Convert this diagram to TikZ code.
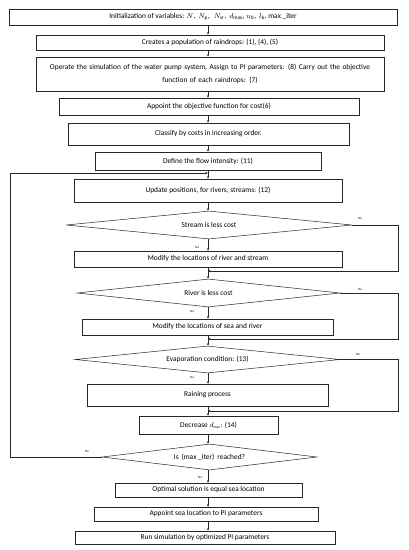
\documentclass[tikz,border=0pt]{standalone}
\usepackage{fontspec}
\setmainfont{Carlito}
\usetikzlibrary{arrows.meta,shapes.geometric}
\begin{document}
\begin{tikzpicture}[x=1pt,y=-1pt,
  box/.style={draw=black!85,line width=0.5pt,rectangle,inner sep=0pt,font=\fontsize{7.4}{12.5}\selectfont,align=center},
  dia/.style={draw=black!85,line width=0.5pt,diamond,aspect=10,inner sep=0pt,font=\fontsize{7.4}{9}\selectfont},
  arr/.style={draw=black!85,line width=0.5pt,-{Stealth[length=2.6pt,width=2.2pt]}},
  lbl/.style={font=\fontsize{3.2}{4}\selectfont,inner sep=0pt}]
\useasboundingbox (0,0) rectangle (408,550);
\fill[white] (0,0) rectangle (408,550);
\coordinate (spine) at (208,0);
\coordinate (rx) at (398,0);
\coordinate (lx) at (10,0);
\node[box,minimum width=388pt,minimum height=16pt] (b1) at (203,17) {Initialization of variables: $N$,\, $N_{\mathrm{p}}$,\,\, $N_{\mathrm{sr}}$,\, $d_{\max}$, $u_{\mathrm{b}}$,\, $l_{\mathrm{b}}$, $\max$ \_iter};
\node[box,minimum width=348pt,minimum height=15pt] (b2) at (210,42.5) {Creates a population of raindrops: (1), (4), (5)};
\node[box,minimum width=348pt,minimum height=34pt,text width=344pt] (b3) at (210,74) {Operate the simulation of the water pump system, Assign to PI parameters: (8) Carry out the objective\\ function of each raindrops: (7)};
\node[box,minimum width=300pt,minimum height=17pt] (b4) at (209,106.5) {Appoint the objective function for cost(6)};
\node[box,minimum width=281pt,minimum height=22pt] (b5) at (208.5,134) {Classify by costs in increasing order.};
\node[box,minimum width=226pt,minimum height=18pt] (b6) at (208,161) {Define the flow intensity: (11)};
\node[box,minimum width=268pt,minimum height=23pt] (b7) at (208,190.5) {Update positions, for rivers, streams: (12)};
\node[dia,minimum width=286pt,minimum height=28pt] (d1) at (209,225) {Stream is less cost};
\node[box,minimum width=268pt,minimum height=16pt] (b8) at (208,259) {Modify the locations of river and stream};
\node[dia,minimum width=263pt,minimum height=28pt] (d2) at (208.5,293) {River is less cost};
\node[box,minimum width=251pt,minimum height=16pt] (b9) at (207.5,327) {Modify the locations of sea and river};
\node[dia,minimum width=265pt,minimum height=27pt] (d3) at (207.5,359.5) {Evaporation condition: (13)};
\node[box,minimum width=241pt,minimum height=22pt] (b10) at (207.5,395) {Raining process};
\node[box,minimum width=139pt,minimum height=18pt] (b11) at (208.5,425) {Decrease $d_{\scriptscriptstyle\max}$: (14)};
\node[dia,minimum width=215pt,minimum height=26pt] (d4) at (209.5,457) {Is\, ($\max$ \_iter)\, reached?};
\node[box,minimum width=187pt,minimum height=14pt] (b12) at (208.5,490) {Optimal solution is equal sea location};
\node[box,minimum width=224pt,minimum height=14pt] (b13) at (206,514) {Appoint sea location to PI parameters};
\node[box,minimum width=260pt,minimum height=13pt] (b14) at (205,537.5) {Run simulation by optimized PI parameters};
% junctions
\coordinate (j0) at (208,173);
\coordinate (j1) at (208,271);
\coordinate (j2) at (208,339);
\coordinate (j3) at (208,411);
% main arrows
\draw[arr] (b1.south -| spine) -- (b2.north -| spine);
\draw[arr] (b2.south -| spine) -- (b3.north -| spine);
\draw[arr] (b3.south -| spine) -- (b4.north -| spine);
\draw[arr] (b4.south -| spine) -- (b5.north -| spine);
\draw[arr] (b5.south -| spine) -- (b6.north -| spine);
\draw[arr] (b6.south -| spine) -- (b7.north -| spine);
\draw[arr] (b7.south -| spine) -- (d1.north -| spine);
\draw[arr] (d1.south -| spine) -- (b8.north -| spine);
\draw[arr] (b8.south -| spine) -- (d2.north -| spine);
\draw[arr] (d2.south -| spine) -- (b9.north -| spine);
\draw[arr] (b9.south -| spine) -- (d3.north -| spine);
\draw[arr] (d3.south -| spine) -- (b10.north -| spine);
\draw[arr] (b10.south -| spine) -- (b11.north -| spine);
\draw[arr] (b11.south -| spine) -- (d4.north -| spine);
\draw[arr] (d4.south -| spine) -- (b12.north -| spine);
\draw[arr] (b12.south -| spine) -- (b13.north -| spine);
\draw[arr] (b13.south -| spine) -- (b14.north -| spine);
% No loops
\draw[arr] (d1.east) -- (d1.east -| rx) |- (j1);
\draw[arr] (d2.east) -- (d2.east -| rx) |- (j2);
\draw[arr] (d3.east) -- (d3.east -| rx) |- (j3);
\draw[arr] (d4.west) -- (d4.west -| lx) |- (j0);
% labels
\node[lbl] (n1) at (360,218) {No};
\node[lbl] (n2) at (360,289) {No};
\node[lbl] (n3) at (358,354) {No};
\node[lbl] (n4) at (87,451) {No};
\node[lbl] (y1) at (197,247) {Yes};
\node[lbl] (y2) at (192,311) {Yes};
\node[lbl] (y3) at (192,377) {Yes};
\node[lbl] (y4) at (200,477) {Yes};
\end{tikzpicture}
\end{document}
